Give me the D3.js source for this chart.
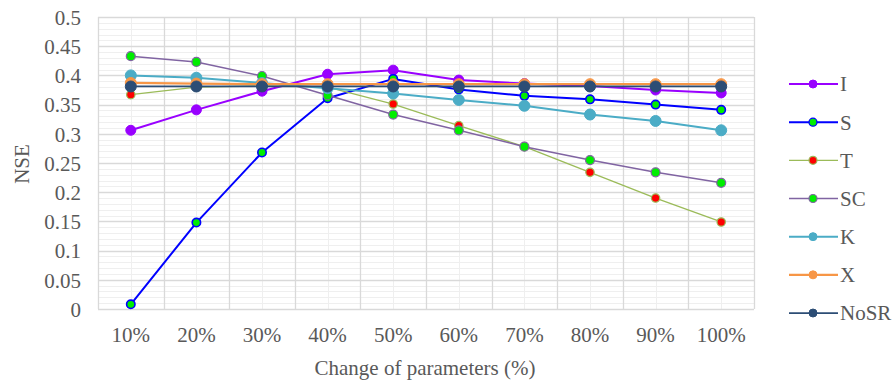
<!DOCTYPE html>
<html>
<head>
<meta charset="utf-8">
<script src="https://cdn.jsdelivr.net/npm/d3@7"></script>
<style>
  html, body { margin: 0; padding: 0; background: #fff; }
  svg { display: block; }
</style>
</head>
<body>
<svg id="chart" width="896" height="381"></svg>
<script>
// Categories along the x axis
const categories = ["10%", "20%", "30%", "40%", "50%", "60%", "70%", "80%", "90%", "100%"];

// NSE values per scenario
const seriesI    = [0.306, 0.341, 0.373, 0.402, 0.409, 0.392, 0.386, 0.382, 0.375, 0.370];
const seriesS    = [0.008, 0.148, 0.268, 0.361, 0.394, 0.376, 0.365, 0.359, 0.350, 0.341];
const seriesT    = [0.367, 0.380, 0.382, 0.380, 0.351, 0.314, 0.278, 0.234, 0.190, 0.149];
const seriesSC   = [0.433, 0.423, 0.399, 0.366, 0.333, 0.306, 0.278, 0.255, 0.234, 0.216];
const seriesK    = [0.400, 0.396, 0.387, 0.378, 0.369, 0.358, 0.348, 0.333, 0.322, 0.306];
const seriesX    = [0.387, 0.386, 0.385, 0.385, 0.385, 0.385, 0.385, 0.385, 0.385, 0.385];
const seriesNoSR = [0.381, 0.381, 0.381, 0.381, 0.381, 0.381, 0.381, 0.381, 0.381, 0.381];

const seriesNames = ["I", "S", "T", "SC", "K", "X", "NoSR"];

// Y axis tick values and labels
const yTicks = [0, 0.05, 0.1, 0.15, 0.2, 0.25, 0.3, 0.35, 0.4, 0.45, 0.5];
const yTickLabels = ["0", "0.05", "0.1", "0.15", "0.2", "0.25", "0.3", "0.35", "0.4", "0.45", "0.5"];

const yTitle = "NSE";
const xTitle = "Change of parameters (%)";

const FONT = "'Liberation Serif', 'Times New Roman', serif";
const TEXT_COLOR = "#595959";

// Styling per series
const styles = {
  "I":    { line: "#9900ff", fill: "#9900ff", stroke: "#9900ff", lw: 2,    r: 5,   sw: 1 },
  "S":    { line: "#0000ff", fill: "#00ee00", stroke: "#0000ff", lw: 2,    r: 4.2, sw: 1.6 },
  "T":    { line: "#9bbb59", fill: "#ff0000", stroke: "#9bbb59", lw: 1.3,  r: 4.2, sw: 1.2 },
  "SC":   { line: "#8064a2", fill: "#00ee00", stroke: "#8064a2", lw: 1.5,  r: 4.5, sw: 1.2 },
  "K":    { line: "#4bacc6", fill: "#4bacc6", stroke: "#4bacc6", lw: 2,    r: 5.5, sw: 1 },
  "X":    { line: "#f79646", fill: "#f79646", stroke: "#f79646", lw: 2.25, r: 5.5, sw: 1 },
  "NoSR": { line: "#2c4d75", fill: "#2c4d75", stroke: "#2c4d75", lw: 1.75, r: 5.5, sw: 1 }
};

const data = {
  "I": seriesI, "S": seriesS, "T": seriesT, "SC": seriesSC,
  "K": seriesK, "X": seriesX, "NoSR": seriesNoSR
};

const svg = d3.select("#chart");
const plot = { left: 98, right: 754, top: 17, bottom: 309 };

const x = d3.scaleBand().domain(categories).range([plot.left, plot.right]).paddingInner(0).paddingOuter(0);
const cx = c => x(c) + x.bandwidth() / 2;
const y = d3.scaleLinear().domain([0, 0.5]).range([plot.bottom, plot.top]);

function styleText(sel) {
  sel.style("font-family", FONT).style("font-size", "21px").style("fill", TEXT_COLOR);
}

// Minor horizontal gridlines
const minorY = d3.range(0, 0.5001, 0.01);
svg.append("g").selectAll("line").data(minorY).join("line")
  .attr("x1", plot.left).attr("x2", plot.right)
  .attr("y1", d => Math.round(y(d)) + 0.5).attr("y2", d => Math.round(y(d)) + 0.5)
  .attr("stroke", "#efefef").attr("stroke-width", 1);

// Minor vertical gridlines at category centres
svg.append("g").selectAll("line").data(categories).join("line")
  .attr("x1", d => Math.round(cx(d)) + 0.5).attr("x2", d => Math.round(cx(d)) + 0.5)
  .attr("y1", plot.top).attr("y2", plot.bottom)
  .attr("stroke", "#efefef").attr("stroke-width", 1);

// Major horizontal gridlines
svg.append("g").selectAll("line").data(yTicks).join("line")
  .attr("x1", plot.left).attr("x2", plot.right)
  .attr("y1", d => Math.round(y(d)) + 0.5).attr("y2", d => Math.round(y(d)) + 0.5)
  .attr("stroke", "#d9d9d9").attr("stroke-width", 1.3);

// Major vertical gridlines at category boundaries
const edges = categories.map(c => x(c)).concat([plot.right]);
svg.append("g").selectAll("line").data(edges).join("line")
  .attr("x1", d => Math.round(d) + 0.5).attr("x2", d => Math.round(d) + 0.5)
  .attr("y1", plot.top).attr("y2", plot.bottom)
  .attr("stroke", "#d9d9d9").attr("stroke-width", 1.3);

// Y axis labels
const yAxis = d3.axisLeft(y).tickValues(yTicks)
  .tickFormat((d, i) => yTickLabels[i]).tickSize(0).tickPadding(0);
const gy = svg.append("g").attr("transform", `translate(${plot.left - 17},0)`).call(yAxis);
gy.select(".domain").remove();
gy.selectAll("text").call(styleText).attr("dy", "0.35em");

// X axis labels
const xAxis = d3.axisBottom(x).tickSize(0).tickPadding(0);
const gx = svg.append("g").attr("transform", `translate(0,${plot.bottom + 19})`).call(xAxis);
gx.select(".domain").remove();
gx.selectAll("text").call(styleText).attr("dy", "0.35em").attr("y", 7);

// Axis titles
svg.append("text").attr("x", 425).attr("y", 368).attr("text-anchor", "middle")
  .attr("dy", "0.35em").call(styleText).text(xTitle);
svg.append("text").attr("transform", "translate(22,164) rotate(-90)")
  .attr("text-anchor", "middle").attr("dy", "0.35em").call(styleText).text(yTitle);

// Series lines and markers, drawn in legend order
const line = d3.line().x((d, i) => cx(categories[i])).y(d => y(d));
seriesNames.forEach(name => {
  const st = styles[name];
  const g = svg.append("g");
  g.append("path").datum(data[name]).attr("d", line)
    .attr("fill", "none").attr("stroke", st.line).attr("stroke-width", st.lw)
    .attr("stroke-linejoin", "round");
  g.selectAll("circle").data(data[name]).join("circle")
    .attr("cx", (d, i) => cx(categories[i])).attr("cy", d => y(d))
    .attr("r", st.r).attr("fill", st.fill)
    .attr("stroke", st.stroke).attr("stroke-width", st.sw);
});

// Legend
const legend = svg.append("g");
const legendY = d3.scalePoint().domain(seriesNames).range([84, 313]);
seriesNames.forEach(name => {
  const st = styles[name];
  const ly = legendY(name);
  legend.append("line").attr("x1", 789).attr("x2", 838).attr("y1", ly).attr("y2", ly)
    .attr("stroke", st.line).attr("stroke-width", st.lw);
  legend.append("circle").attr("cx", 813).attr("cy", ly).attr("r", Math.min(st.r, 4))
    .attr("fill", st.fill).attr("stroke", st.stroke).attr("stroke-width", Math.min(st.sw, 1.3));
  legend.append("text").attr("x", 840).attr("y", ly).attr("dy", "0.35em")
    .call(styleText).text(name);
});
</script>
</body>
</html>
